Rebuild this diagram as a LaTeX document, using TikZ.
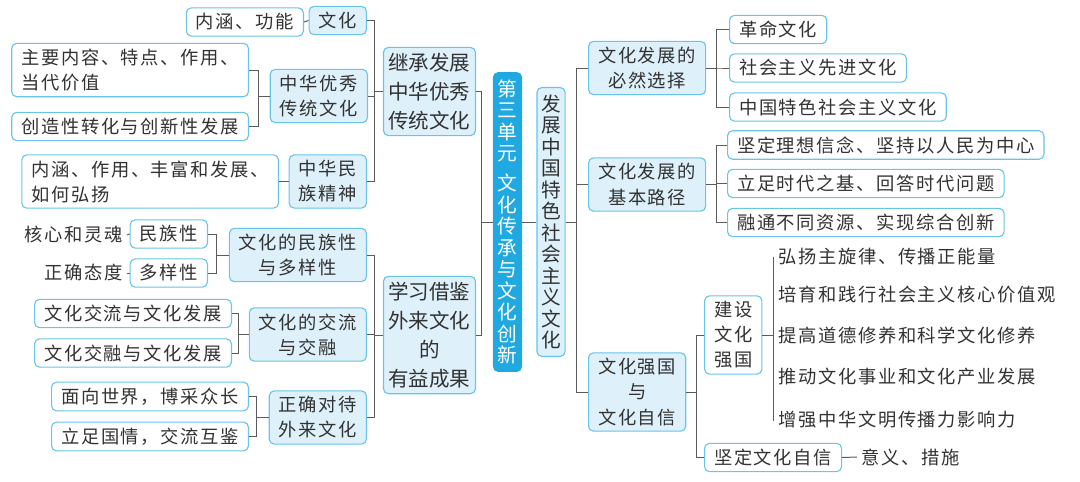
\documentclass[tikz,border=0pt]{standalone}
\usepackage{fontspec}
\setmainfont{Noto Sans CJK SC}[LetterSpace=9]
\newfontfamily\vcjk{Noto Sans CJK SC}
\usepackage{tikz}
\definecolor{boxline}{RGB}{104,196,232}
\definecolor{boxfill}{RGB}{222,241,250}
\definecolor{rootblue}{RGB}{32,168,224}
\definecolor{ink}{RGB}{50,50,50}
\definecolor{linkgray}{RGB}{90,90,90}

\begin{document}
\begin{tikzpicture}[x=0.025cm, y=-0.025cm,
    leaf/.style={draw=boxline, line width=0.8pt, rounded corners=3.5pt, fill=white, text=ink,
        align=left, inner xsep=6.8pt, inner ysep=4pt, font=\fontsize{13pt}{17.8pt}\selectfont},
    topic/.style={leaf, fill=boxfill, align=center},
    major/.style={topic, inner xsep=3.5pt, font=\vcjk\fontsize{14.6pt}{20.6pt}\selectfont},
    spine/.style={topic, inner xsep=3pt, inner ysep=5pt, font=\vcjk\fontsize{14pt}{15.3pt}\selectfont},
    root/.style={spine, fill=rootblue, draw=rootblue, text=white},
    plain/.style={text=ink, inner xsep=3pt, font=\fontsize{13pt}{17.8pt}\selectfont},
    link/.style={draw=linkgray, line width=0.7pt}]
    \useasboundingbox (0,0) rectangle (1080,481);

    \node[root] (unit) at (507.5,222) {第\\三\\单\\元\\[6pt]文\\化\\传\\承\\与\\文\\化\\创\\新};
    \node[spine] (soc) at (551,222) {发\\展\\中\\国\\特\\色\\社\\会\\主\\义\\文\\化};

    \node[major, anchor=east] (inherit) at (476,91.5) {继承发展\\中华优秀\\传统文化};
    \node[major, anchor=east] (learn) at (476,335) {学习借鉴\\外来文化\\的\\有益成果};

    \node[topic, anchor=east] (wh) at (367,20.5) {文化};
    \node[leaf, anchor=east] (whnh) at (304,22) {内涵、功能};
    \node[topic, anchor=east] (zhyx) at (368,96) {中华优秀\\传统文化};
    \node[leaf, anchor=east] (zycont) at (249,70) {主要内容、特点、作用、\\当代价值};
    \node[leaf, anchor=east] (czx) at (249,126.5) {创造性转化与创新性发展};
    \node[topic, anchor=east] (mzjs) at (367,181.5) {中华民\\族精神};
    \node[leaf, anchor=east] (mzcont) at (279,181.5) {内涵、作用、丰富和发展、\\如何弘扬};

    \node[topic, anchor=east] (mzx) at (367,255) {文化的民族性\\与多样性};
    \node[leaf, anchor=east] (mzxa) at (208,234) {民族性};
    \node[leaf, anchor=east] (dyx) at (208,273) {多样性};
    \node[plain, anchor=east] (hxlh) at (127,235) {核心和灵魂};
    \node[plain, anchor=east] (zqtd) at (127,273) {正确态度};
    \node[topic, anchor=east] (jl) at (367,334.5) {文化的交流\\与交融};
    \node[leaf, anchor=east] (jlfz) at (232,313.5) {文化交流与文化发展};
    \node[leaf, anchor=east] (jrfz) at (232,353) {文化交融与文化发展};
    \node[topic, anchor=east] (dd) at (367,417.5) {正确对待\\外来文化};
    \node[leaf, anchor=east] (mxsj) at (249,396.5) {面向世界，博采众长};
    \node[leaf, anchor=east] (lzgq) at (249,436.5) {立足国情，交流互鉴};

    \node[topic, anchor=west] (fz) at (588,68) {文化发展的\\必然选择};
    \node[leaf, anchor=west] (gm) at (729,29.5) {革命文化};
    \node[leaf, anchor=west] (sh) at (729,68) {社会主义先进文化};
    \node[leaf, anchor=west] (zg) at (729,107) {中国特色社会主义文化};
    \node[topic, anchor=west] (lj) at (588,184.5) {文化发展的\\基本路径};
    \node[leaf, anchor=west] (jd) at (727,145) {坚定理想信念、坚持以人民为中心};
    \node[leaf, anchor=west] (lz) at (727,183.5) {立足时代之基、回答时代问题};
    \node[leaf, anchor=west] (rt) at (727,222.5) {融通不同资源、实现综合创新};
    \node[topic, anchor=west] (qg) at (588,392) {文化强国\\与\\文化自信};
    \node[leaf, anchor=west, align=center] (js) at (704,335) {建设\\文化\\强国};
    \node[leaf, anchor=west] (zx) at (704,457.5) {坚定文化自信};
    \node[plain, anchor=west] (yy) at (857,457) {意义、措施};
    \node[plain, anchor=west] (it1) at (774,257) {弘扬主旋律、传播正能量};
    \node[plain, anchor=west] (it2) at (774,295) {培育和践行社会主义核心价值观};
    \node[plain, anchor=west] (it3) at (774,336) {提高道德修养和科学文化修养};
    \node[plain, anchor=west] (it4) at (774,377) {推动文化事业和文化产业发展};
    \node[plain, anchor=west] (it5) at (774,420) {增强中华文明传播力影响力};

    \draw[link] (unit.west) -- ++(-11,0) |- (inherit.east);
    \draw[link] (unit.west) -- ++(-11,0) |- (learn.east);
    \draw[link] (unit.east) -- (soc.west);
    \foreach \kid in {wh, zhyx, mzjs}
        \draw[link] (inherit.west) -- ++(-8,0) |- (\kid.east);
    \foreach \kid in {mzx, jl, dd}
        \draw[link] (learn.west) -- ++(-8,0) |- (\kid.east);
    \draw[link] (whnh.east) -- (wh.west);
    \foreach \kid in {zycont, czx}
        \draw[link] (zhyx.west) -- ++(-11,0) |- (\kid.east);
    \draw[link] (mzcont.east) -- (mzjs.west);
    \foreach \kid in {mzxa, dyx}
        \draw[link] (mzx.west) -- ++(-12,0) |- (\kid.east);
    \draw[link] (hxlh.east) -- (mzxa.west);
    \draw[link] (zqtd.east) -- (dyx.west);
    \foreach \kid in {jlfz, jrfz}
        \draw[link] (jl.west) -- ++(-10,0) |- (\kid.east);
    \foreach \kid in {mxsj, lzgq}
        \draw[link] (dd.west) -- ++(-12,0) |- (\kid.east);

    \foreach \kid in {fz, lj, qg}
        \draw[link] (soc.east) -- ++(11,0) |- (\kid.west);
    \foreach \kid in {gm, sh, zg}
        \draw[link] (fz.east) -- ++(10,0) |- (\kid.west);
    \foreach \kid in {jd, lz, rt}
        \draw[link] (lj.east) -- ++(10,0) |- (\kid.west);
    \foreach \kid in {js, zx}
        \draw[link] (qg.east) -- ++(10,0) |- (\kid.west);
    \foreach \kid in {it1, it2, it3, it4, it5}
        \draw[link] (js.east) -- ++(11,0) |- (\kid.west);
    \draw[link] (zx.east) -- (yy.west);
\end{tikzpicture}
\end{document}
